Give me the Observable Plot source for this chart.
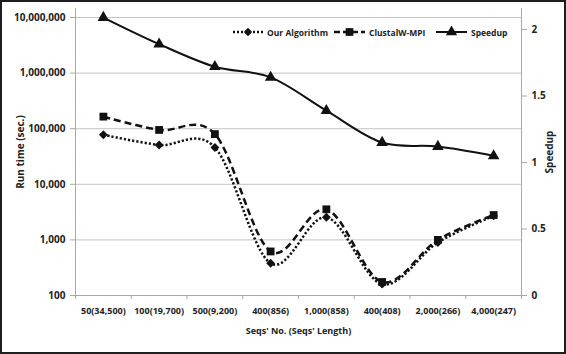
<!DOCTYPE html>
<html><head><meta charset="utf-8">
<script src="https://cdn.jsdelivr.net/npm/d3@7"></script>
<script src="https://cdn.jsdelivr.net/npm/@observablehq/plot@0.6"></script>
<style>
body{margin:0;background:#fff;}
#chart{position:relative;width:566px;height:354px;font-family:"Open Sans",sans-serif;overflow:hidden;}
#chart svg.layer{position:absolute;left:0;top:0;}
#border{position:absolute;left:0;top:0;width:566px;height:354px;box-sizing:border-box;border:2px solid #1e1e1e;pointer-events:none;}
.leg{position:absolute;top:26px;height:12px;display:flex;align-items:center;font:bold 8.5px "Open Sans",sans-serif;color:#222;white-space:nowrap;}
.leg svg{margin-right:4px;display:block;}
</style></head><body>
<div id="chart"></div>
<script>
const categories = ["50(34,500)","100(19,700)","500(9,200)","400(856)","1,000(858)","400(408)","2,000(266)","4,000(247)"];
const ourAlgorithm = [78000, 51000, 46000, 380, 2550, 160, 900, 2700];
const clustalW = [165000, 95000, 80000, 620, 3550, 175, 1000, 2800];
const speedup = [2.09, 1.89, 1.72, 1.64, 1.39, 1.15, 1.12, 1.05];
const runTimeTicks = [100, 1000, 10000, 100000, 1000000, 10000000];
const speedupTicks = [0, 0.5, 1, 1.5, 2];
const seriesNames = ["Our Algorithm", "ClustalW-MPI", "Speedup"];

const W = 566, H = 354, mL = 75, mR = 45, mT = 8, mB = 59;
const idx = d3.range(categories.length);
const xDomain = [-0.5, categories.length - 0.5];
const bounds = d3.range(categories.length + 1).map(i => i - 0.5);
const ourRows = idx.map(i => ({i, v: ourAlgorithm[i]}));
const clRows = idx.map(i => ({i, v: clustalW[i]}));
const spRows = idx.map(i => ({i, v: speedup[i]}));
const axisGray = "#a8a8a8";
const ink = "#111";
const textCol = "#222";

const p1 = Plot.plot({
  width: W, height: H, marginLeft: mL, marginRight: mR, marginTop: mT, marginBottom: mB,
  style: {fontFamily: "Open Sans", fontWeight: "bold", color: textCol, background: "transparent"},
  x: {domain: xDomain},
  y: {type: "log", domain: [100, 1e7 * Math.pow(10, 0.162)]},
  marks: [
    Plot.gridY(runTimeTicks, {stroke: "#c4c4c4", strokeOpacity: 1}),
    Plot.ruleX(xDomain, {stroke: axisGray}),
    Plot.ruleY([100], {stroke: axisGray}),
    Plot.axisY({ticks: runTimeTicks, tickFormat: d3.format(","), tickSize: 5, tickPadding: 5, fontSize: 10,
      stroke: axisGray, fill: textCol, label: "Run time (sec.)", labelAnchor: "center", labelArrow: "none", labelOffset: 59}),
    Plot.axisX({ticks: bounds, tickSize: 4, tickFormat: () => "", stroke: axisGray, label: null}),
    Plot.axisX({ticks: idx, tickSize: 0, tickPadding: 12, tickFormat: i => categories[i], fontSize: 9, fill: textCol,
      label: "Seqs' No. (Seqs' Length)", labelAnchor: "center", labelArrow: "none", labelOffset: 38}),
    Plot.line(ourRows, {x: "i", y: "v", curve: "cardinal", tension: 0, stroke: ink, strokeWidth: 2.5,
      strokeDasharray: "2.2,2", strokeLinecap: "butt"}),
    Plot.line(clRows, {x: "i", y: "v", curve: "cardinal", tension: 0, stroke: ink, strokeWidth: 2.5,
      strokeDasharray: "7,4", strokeLinecap: "butt"}),
    Plot.dot(clRows, {x: "i", y: "v", symbol: "square", r: 4.4, fill: ink}),
    Plot.dot(ourRows, {x: "i", y: "v", symbol: "diamond2", r: 4, fill: ink})
  ]
});

const p2 = Plot.plot({
  width: W, height: H, marginLeft: mL, marginRight: mR, marginTop: mT, marginBottom: mB,
  style: {fontFamily: "Open Sans", fontWeight: "bold", color: textCol, background: "transparent"},
  x: {domain: xDomain, axis: null},
  y: {domain: [0, 2.158]},
  marks: [
    Plot.axisY({anchor: "right", ticks: speedupTicks, tickFormat: d => String(d), tickSize: 5, tickPadding: 5, fontSize: 10,
      stroke: axisGray, fill: textCol, label: "Speedup", labelAnchor: "center", labelArrow: "none", labelOffset: 31}),
    Plot.line(spRows, {x: "i", y: "v", curve: "cardinal", tension: 0, stroke: ink, strokeWidth: 2}),
    Plot.dot(spRows, {x: "i", y: "v", symbol: "triangle", r: 4.3, fill: ink})
  ]
});

const chart = document.getElementById("chart");
p1.classList.add("layer");
p2.classList.add("layer");
chart.appendChild(p1);
chart.appendChild(p2);

// legend
const legendDefs = [
  {name: seriesNames[0], dash: "2,2", sw: 2.5, sym: d3.symbolDiamond2, size: 45, left: 233, w: 30},
  {name: seriesNames[1], dash: "6,3", sw: 2.5, sym: d3.symbolSquare, size: 60, left: 334, w: 31},
  {name: seriesNames[2], dash: null, sw: 2, sym: d3.symbolTriangle, size: 55, left: 436, w: 31}
];
legendDefs.forEach(d => {
  const div = document.createElement("div");
  div.className = "leg";
  div.style.left = d.left + "px";
  const s = d3.create("svg").attr("width", d.w).attr("height", 12);
  s.append("line").attr("x1", 0).attr("x2", d.w).attr("y1", 6).attr("y2", 6)
    .attr("stroke", ink).attr("stroke-width", d.sw).attr("stroke-dasharray", d.dash);
  s.append("path").attr("d", d3.symbol(d.sym, d.size)()).attr("transform", `translate(${d.w/2},6)`).attr("fill", ink);
  div.appendChild(s.node());
  const t = document.createElement("span");
  t.textContent = d.name;
  div.appendChild(t);
  chart.appendChild(div);
});

const border = document.createElement("div");
border.id = "border";
chart.appendChild(border);
</script>
</body></html>
